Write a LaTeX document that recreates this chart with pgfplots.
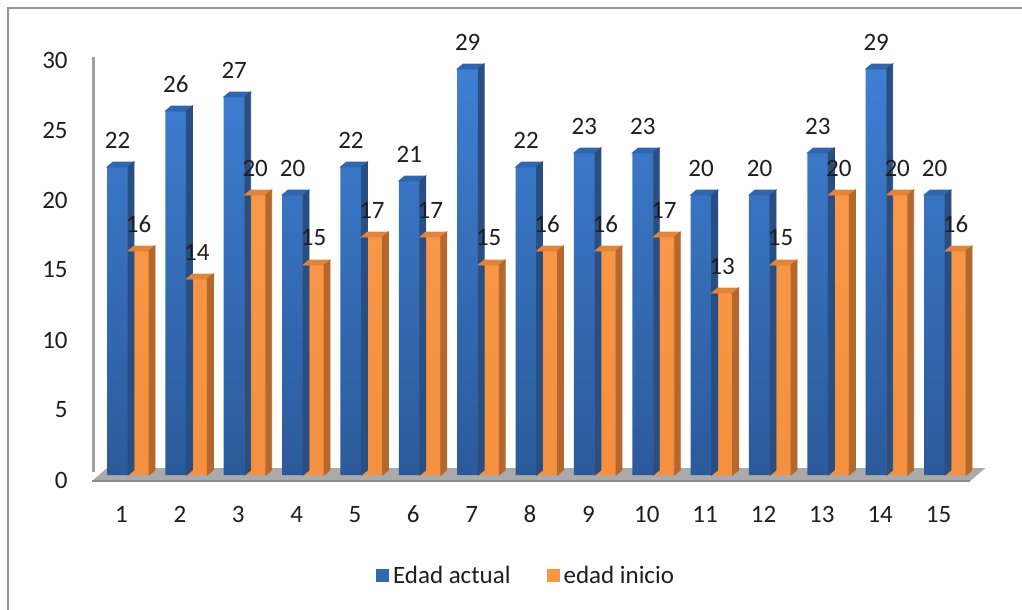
\documentclass[border=0pt]{standalone}
\usepackage{pgfplots}
\pgfplotsset{compat=1.18}
\usepackage{pgfplotstable}
\usepackage{fontspec}
\setmainfont{Carlito}

% colours of the front, side and top faces
\definecolor{blueTop}{RGB}{62,127,212}
\definecolor{blueBot}{RGB}{43,90,154}
\definecolor{blueSide}{RGB}{40,78,130}
\definecolor{blueCap}{RGB}{50,102,172}
\definecolor{blueKey}{RGB}{50,104,178}
\definecolor{orgTop}{RGB}{248,152,72}
\definecolor{orgBot}{RGB}{244,144,64}
\definecolor{orgSide}{RGB}{180,104,44}
\definecolor{orgCap}{RGB}{224,134,60}
\definecolor{orgKey}{RGB}{247,150,70}
\definecolor{floorGray}{RGB}{170,170,170}
\definecolor{floorEdge}{RGB}{140,140,140}
\definecolor{wallGray}{RGB}{160,160,160}
\definecolor{frameGray}{RGB}{150,150,150}
\definecolor{txt}{RGB}{30,30,30}

% a plot mark that draws nothing; the faces are drawn by the scatter code
\pgfdeclareplotmark{blank}{}

\pgfplotstableread{
n  actual inicio
1  22 16
2  26 14
3  27 20
4  20 15
5  22 17
6  21 17
7  29 15
8  22 16
9  23 16
10 23 17
11 20 13
12 20 15
13 23 20
14 29 20
15 20 16
}\edades

\newcommand{\lbl}{\fontsize{12.5}{14}\selectfont}

\begin{document}
\begin{tikzpicture}
\begin{axis}[
  x=29.18pt, y=7pt,
  xmin=0.383, xmax=15.74, ymin=0, ymax=30,
  clip=false,
  axis line style={draw=none},
  major tick length=0pt,
  xtick={1,...,15}, ytick={0,5,...,30},
  /pgf/number format/assume math mode=true,
  tick label style={font=\lbl, text=txt},
  yticklabel style={anchor=east, inner sep=0pt, xshift=-12pt, yshift=-2.5pt},
  xticklabel style={anchor=center, inner sep=0pt, xshift=-3.25pt, yshift=-19.75pt},
  every node near coord/.append style={anchor=center, yshift=13.5pt, font=\lbl, text=txt, inner sep=0pt},
  legend style={at={(0.4854,-0.2405)}, anchor=center, draw=none, fill=none,
    legend columns=2, font=\lbl, text=txt,
    /tikz/every even column/.append style={column sep=16pt}},
  legend image code/.code={\fill[#1] (0pt,-3pt) rectangle (6.5pt,3.5pt);},
]

% back wall edge and floor
\draw[wallGray, line width=1.5pt] (axis cs:0.417,0.2) -- (axis cs:0.417,29.86);
\addplot[fill=floorGray, draw=none, forget plot]
  coordinates {(0.383,-0.43) (15.43,-0.43) (15.69,0.5) (0.64,0.5)} -- cycle;
\draw[floorEdge, line width=0.6pt] (axis cs:0.383,-0.43) -- (axis cs:15.43,-0.43);

% Edad actual: front faces
\addplot[ybar, bar width=10.5pt, bar shift=-5.25pt, draw=none,
  top color=blueTop, bottom color=blueBot, forget plot]
  table[x=n, y=actual] {\edades};
% Edad actual: top and side faces
\addplot[only marks, mark=blank, scatter, forget plot,
  visualization depends on={rawy \as \rawy},
  scatter/@pre marker code/.code={%
    \pgfmathsetlengthmacro\hb{2.5pt-\rawy*7pt}%
    \pgfmathsetlengthmacro\hf{-\rawy*7pt}%
    \fill[blueCap] (-10.5pt,0pt) -- (-7.5pt,2.5pt) -- (3pt,2.5pt) -- (0pt,0pt) -- cycle;
    \fill[blueSide] (0pt,0pt) -- (3pt,2.5pt) -- (3pt,\hb) -- (0pt,\hf) -- cycle;
  },
  scatter/@post marker code/.code={}]
  table[x=n, y=actual] {\edades};

% edad inicio: front faces
\addplot[ybar, bar width=10.5pt, bar shift=5.25pt, draw=none,
  top color=orgTop, bottom color=orgBot, forget plot]
  table[x=n, y=inicio] {\edades};
% edad inicio: top and side faces
\addplot[only marks, mark=blank, scatter, forget plot,
  visualization depends on={rawy \as \rawy},
  scatter/@pre marker code/.code={%
    \pgfmathsetlengthmacro\hb{2.5pt-\rawy*7pt}%
    \pgfmathsetlengthmacro\hf{-\rawy*7pt}%
    \fill[orgCap] (0pt,0pt) -- (3pt,2.5pt) -- (13.5pt,2.5pt) -- (10.5pt,0pt) -- cycle;
    \fill[orgSide] (10.5pt,0pt) -- (13.5pt,2.5pt) -- (13.5pt,\hb) -- (10.5pt,\hf) -- cycle;
  },
  scatter/@post marker code/.code={}]
  table[x=n, y=inicio] {\edades};

% value labels, drawn last so that they sit above every face
\addplot[only marks, mark=blank, forget plot, nodes near coords,
  every node near coord/.append style={xshift=-5.25pt}]
  table[x=n, y=actual] {\edades};
\addplot[only marks, mark=blank, forget plot, nodes near coords,
  every node near coord/.append style={xshift=5.25pt}]
  table[x=n, y=inicio] {\edades};

\addlegendimage{fill=blueKey, draw=none}
\addlegendentry{Edad actual}
\addlegendimage{fill=orgKey, draw=none}
\addlegendentry{edad inicio}

% chart border (left and top edges)
\draw[frameGray, line width=1pt] (axis cs:-1.0562,-10) -- (axis cs:-1.0562,33.357) -- (axis cs:16.5,33.357);

\coordinate (bbTL) at (axis cs:-1.1933,33.93);
\coordinate (bbBR) at (axis cs:16.318,-9.571);
\end{axis}
\pgfresetboundingbox
\useasboundingbox (bbTL) rectangle (bbBR);
\end{tikzpicture}
\end{document}
